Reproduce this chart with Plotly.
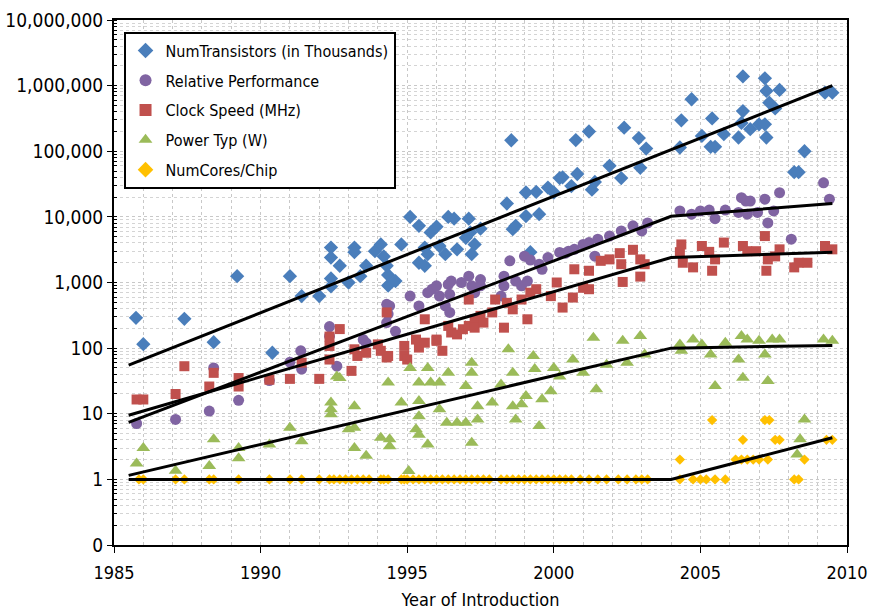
import plotly.graph_objects as go

# ---------------- data ----------------
trans_years = [1985.75, 1986.0, 1987.4, 1988.4, 1989.2, 1990.4, 1991.0, 1991.4, 1992.0, 1992.4, 1992.4, 1992.4,
               1992.4, 1992.7, 1993.0, 1993.2, 1993.2, 1993.4, 1993.6, 1993.9, 1994.1, 1994.2, 1994.3, 1994.35,
               1994.35, 1994.6, 1994.8, 1995.1, 1995.4, 1995.4, 1995.6, 1995.6, 1995.7, 1995.8, 1996.0, 1996.1,
               1996.3, 1996.4, 1996.6, 1996.7, 1997.0, 1997.1, 1997.15, 1997.3, 1997.2, 1997.5, 1998.4, 1998.55,
               1998.6, 1998.7, 1999.05, 1999.05, 1999.2, 1999.4, 1999.5, 1999.8, 2000.0, 2000.2, 2000.3, 2000.6,
               2000.75, 2000.8, 2001.2, 2001.3, 2001.4, 2001.9, 2002.3, 2002.4, 2002.9, 2002.95, 2003.15, 2004.3,
               2004.35, 2004.7, 2005.05, 2005.35, 2005.4, 2005.5, 2005.8, 2006.3, 2006.4, 2006.45, 2006.45, 2006.7,
               2007.0, 2007.2, 2007.2, 2007.25, 2007.25, 2007.35, 2007.55, 2007.7, 2008.2, 2008.35, 2008.55,
               2009.25, 2009.5]
trans_vals = [290, 115, 280, 123, 1250, 85, 1250, 620, 620, 3400, 2400, 1150,
              870, 1800, 1000, 3400, 2900, 1250, 1800, 3000, 3800, 2500, 1800, 900,
              1300, 1050, 3800, 10000, 7300, 2000, 1800, 3400, 2700, 5800, 7100, 3600,
              2700, 10000, 9400, 3200, 4800, 9400, 5800, 3800, 2700, 6600, 16000, 147000,
              6500, 7300, 23500, 10300, 2900, 24000, 11000, 28000, 23500, 39000, 40000, 29500,
              148000, 45000, 200000, 26000, 34000, 60000, 39000, 229000, 159000, 56000, 110000, 114000,
              296000, 620000, 171000, 117000, 316000, 117000, 182000, 162000, 270000, 410000, 1380000, 217000,
              257000, 257000, 1290000, 830000, 162000, 550000, 450000, 860000, 48000, 48000, 100000,
              780000, 780000]

perf_years = [1985.77, 1987.1, 1988.25, 1988.4, 1989.25, 1990.3, 1991.0, 1991.37, 1991.4, 1992.35, 1992.35,
              1992.6, 1993.5, 1993.6, 1994.3, 1994.3, 1994.35, 1994.4, 1994.6, 1995.1, 1995.4, 1995.7, 1995.85,
              1996.0, 1996.1, 1996.3, 1996.4, 1996.45, 1996.45, 1996.5, 1996.85, 1997.1, 1997.2, 1997.3, 1997.5,
              1997.5, 1998.2, 1998.3, 1998.3, 1998.5, 1998.7, 1998.9, 1999.0, 1999.1, 1999.2, 1999.5, 1999.6,
              1999.8, 2000.2, 2000.4, 2000.5, 2000.7, 2001.0, 2001.2, 2001.4, 2001.5, 2001.9, 2002.3, 2002.7,
              2003.0, 2003.2, 2004.3, 2004.7, 2005.0, 2005.3, 2005.5, 2005.85, 2006.3, 2006.4, 2006.55, 2006.7,
              2006.6, 2006.95, 2007.2, 2007.3, 2007.5, 2007.7, 2008.1, 2009.2, 2009.4]
perf_vals = [7.1, 8.2, 11, 50, 16, 32, 61, 91, 48, 213, 152,
             53, 135, 120, 465, 245, 330, 440, 180, 620, 440, 700, 790,
             890, 620, 440, 935, 350, 660, 1050, 1000, 1250, 890, 700, 1110,
             890, 620, 890, 1250, 2140, 1050, 890, 2520, 1050, 2200, 1900, 1590,
             2400, 2870, 2800, 3000, 3200, 3800, 4060, 2520, 4570, 5100, 6100, 7300,
             6100, 8100, 12300, 11000, 12300, 12700, 9400, 12700, 11700, 19600, 17400, 17400,
             11000, 11700, 18600, 8100, 12300, 23400, 4570, 33000, 18600]

clock_years = [1985.77, 1986.0, 1987.1, 1987.4, 1988.25, 1988.4, 1989.25, 1989.25, 1990.3, 1991.0, 1991.4,
               1992.0, 1992.35, 1992.35, 1992.35, 1992.7, 1993.1, 1993.2, 1993.3, 1993.6, 1994.0, 1994.1,
               1994.3, 1994.35, 1994.3, 1994.9, 1994.9, 1995.0, 1995.3, 1995.4, 1995.6, 1995.6, 1996.0,
               1996.0, 1996.2, 1996.4, 1996.5, 1996.7, 1996.9, 1997.1, 1997.1, 1997.3, 1997.3, 1997.5,
               1997.6, 1997.9, 1998.0, 1998.3, 1998.4, 1998.6, 1998.9, 1999.1, 1999.2, 1999.4, 1999.9,
               2000.1, 2000.3, 2000.65, 2000.7, 2001.0, 2001.2, 2001.2, 2001.6, 2001.9, 2002.25, 2002.3,
               2002.35, 2002.7, 2002.95, 2002.95, 2003.1, 2004.35, 2004.3, 2004.4, 2004.75, 2005.05, 2005.3,
               2005.4, 2005.5, 2005.8, 2006.45, 2006.6, 2006.9, 2007.2, 2007.3, 2007.25, 2007.55, 2007.7,
               2008.2, 2008.35, 2008.65, 2009.25, 2009.5]
clock_vals = [16.5, 16.5, 20, 53, 26, 42, 35, 26, 33, 34, 60,
              34, 150, 108, 67, 195, 45, 96, 76, 85, 114, 91,
              350, 76, 72, 108, 76, 67, 135, 102, 275, 121, 135,
              129, 91, 218, 173, 162, 194, 550, 218, 275, 205, 310,
              245, 350, 550, 205, 490, 390, 550, 275, 700, 790, 620,
              1000, 415, 590, 1590, 830, 790, 1510, 2140, 2250, 2800, 1900,
              1020, 3150, 2250, 1230, 1900, 3800, 2900, 2000, 1700, 3600, 2930,
              1510, 2250, 4060, 3600, 3000, 3000, 5100, 2250, 1510, 2500, 3200,
              1700, 2000, 2000, 3600, 3200]

power_years = [1985.77, 1986.0, 1987.1, 1988.25, 1988.4, 1989.25, 1989.25, 1990.3, 1991.0, 1991.4, 1992.4,
               1992.4, 1992.4, 1992.6, 1992.7, 1993.0, 1993.2, 1993.2, 1993.2, 1993.6, 1994.35, 1994.1,
               1994.4, 1994.4, 1994.8, 1995.05, 1995.1, 1995.4, 1995.4, 1995.4, 1995.3, 1995.4, 1995.7,
               1995.7, 1995.8, 1996.1, 1996.1, 1996.4, 1996.35, 1996.7, 1997.0, 1997.0, 1997.2, 1997.2,
               1997.2, 1997.4, 1997.4, 1997.9, 1998.2, 1998.45, 1998.6, 1998.6, 1998.7, 1998.9, 1999.05,
               1999.3, 1999.35, 1999.5, 1999.6, 1999.9, 2000.0, 2000.2, 2000.65, 2001.0, 2001.35, 2001.45,
               2001.8, 2002.35, 2002.5, 2002.95, 2003.1, 2004.3, 2004.35, 2004.75, 2005.05, 2005.35, 2005.5,
               2005.85, 2006.4, 2006.6, 2006.3, 2006.45, 2007.0, 2007.2, 2007.3, 2007.45, 2007.7, 2008.3,
               2008.4, 2008.55, 2009.2, 2009.5]
power_vals = [1.75, 3.0, 1.35, 1.6, 4.1, 3.0, 2.1, 3.4, 6.1, 3.8, 14.8,
              11.7, 9.8, 37, 35, 5.8, 13, 6.1, 3.0, 2.3, 30, 4.3,
              4.1, 3.2, 14.8, 1.34, 50, 30, 15.6, 9.2, 5.8, 4.8, 3.4,
              50, 30, 30, 11.7, 42, 7.3, 7.3, 7.3, 26.5, 42, 60,
              3.6, 13, 8.2, 14.8, 28, 96, 42, 13, 8.2, 14, 18.6,
              76, 48, 6.5, 16.6, 22, 50, 37, 67, 42, 144, 23.6,
              56, 129, 60, 153, 80, 114, 91, 135, 114, 80, 26.5,
              121, 153, 135, 67, 35.5, 129, 80, 31.6, 135, 135, 2.4,
              4.1, 8.2, 135, 129]

cores_years = [1985.85, 1986.0, 1987.1, 1987.4, 1988.25, 1988.4, 1989.25, 1990.3, 1991.0, 1991.4, 1992.0,
               1992.35, 1992.5, 1992.7, 1992.9, 1993.1, 1993.3, 1993.5, 1993.7, 1994.1, 1994.2, 1994.35,
               1994.8, 1994.9, 1995.0, 1995.2, 1995.4, 1995.6, 1995.8, 1996.0, 1996.2, 1996.4, 1996.6,
               1996.8, 1997.0, 1997.2, 1997.4, 1997.6, 1997.8, 1998.2, 1998.4, 1998.6, 1998.8, 1999.0,
               1999.2, 1999.4, 1999.6, 1999.8, 2000.0, 2000.2, 2000.4, 2000.6, 2000.9, 2001.2, 2001.5,
               2001.8, 2002.2, 2002.5, 2002.8, 2003.0, 2003.2, 2004.3, 2004.75, 2005.0, 2005.2, 2005.5,
               2005.85, 2008.2, 2008.35, 2004.3, 2006.2, 2006.4, 2006.6, 2006.8, 2007.0, 2007.3, 2008.55,
               2006.45, 2007.55, 2007.7, 2009.3, 2009.5, 2005.4, 2007.2, 2007.35]
cores_vals = [1, 1, 1, 1, 1, 1, 1, 1, 1, 1, 1,
              1, 1, 1, 1, 1, 1, 1, 1, 1, 1, 1,
              1, 1, 1, 1, 1, 1, 1, 1, 1, 1, 1,
              1, 1, 1, 1, 1, 1, 1, 1, 1, 1, 1,
              1, 1, 1, 1, 1, 1, 1, 1, 1, 1, 1,
              1, 1, 1, 1, 1, 1, 1, 1, 1, 1, 1,
              1, 1, 1, 2, 2, 2, 2, 2, 2, 2, 2,
              4, 4, 4, 4, 4, 8, 8, 8]

# trend lines (piecewise fits drawn in the reference)
trans_trend_years = [1985.5, 2009.5]
trans_trend_vals = [55, 1000000]
perf_trend_years = [1985.5, 2004.0, 2009.5]
perf_trend_vals = [7.4, 10200, 16000]
clock_trend_years = [1985.5, 2004.0, 2009.5]
clock_trend_vals = [9.5, 2400, 2900]
power_trend_years = [1985.5, 2004.0, 2009.5]
power_trend_vals = [1.15, 100, 110]
cores_trend_years = [1985.5, 2004.0, 2009.5]
cores_trend_vals = [1, 1, 4.3]

y_tickvals = [0.1, 1, 10, 100, 1000, 10000, 100000, 1000000, 10000000]
y_ticktext = ["0", "1", "10", "100", "1,000", "10,000", "100,000", "1,000,000", "10,000,000"]
x_tickvals = [1985, 1990, 1995, 2000, 2005, 2010]

# ---------------- figure ----------------
FONT = "DejaVu Sans Condensed, Liberation Sans Narrow, Arial, sans-serif"

fig = go.Figure()

series = [
    ("NumTransistors (in Thousands)", trans_years, trans_vals, "diamond", "#4A7EBB", 11),
    ("Relative Performance", perf_years, perf_vals, "circle", "#8064A2", 11),
    ("Clock Speed (MHz)", clock_years, clock_vals, "square", "#C0504D", 10),
    ("Power Typ (W)", power_years, power_vals, "triangle-up", "#9BBB59", 12),
    ("NumCores/Chip", cores_years, cores_vals, "diamond", "#FFC000", 8),
]
for i, (name, xs, ys, sym, col, sz) in enumerate(series):
    fig.add_trace(go.Scatter(
        x=xs, y=ys, mode="markers", name=name, legendgroup=f"g{i}",
        marker=dict(symbol=sym, color=col, size=sz, line=dict(width=0)),
    ))

for xs, ys in [(trans_trend_years, trans_trend_vals), (perf_trend_years, perf_trend_vals),
               (clock_trend_years, clock_trend_vals), (power_trend_years, power_trend_vals),
               (cores_trend_years, cores_trend_vals)]:
    fig.add_trace(go.Scatter(x=xs, y=ys, mode="lines", showlegend=False,
                             line=dict(color="black", width=3), hoverinfo="skip"))

fig.update_layout(
    width=869, height=614,
    margin=dict(l=114, r=22, t=20, b=69, autoexpand=False),
    paper_bgcolor="white", plot_bgcolor="white",
    font=dict(family=FONT, color="black", size=16),
    showlegend=True,
    legend=dict(
        x=0.013, y=0.978, xanchor="left", yanchor="top",
        bgcolor="white", bordercolor="black", borderwidth=2,
        font=dict(family=FONT, size=16, color="black"),
        tracegroupgap=6, itemsizing="constant",
    ),
)

fig.update_xaxes(
    range=[1985, 2010], tickvals=x_tickvals, ticktext=[str(v) for v in x_tickvals],
    showline=True, linecolor="black", linewidth=2, mirror=True,
    ticks="outside", ticklen=6, tickcolor="black", ticklabelstandoff=4,
    showgrid=True, gridcolor="#c8c8c8", griddash="dot", gridwidth=1,
    minor=dict(dtick=1, tick0=1985, showgrid=True, gridcolor="#c8c8c8", griddash="dot"),
    tickfont=dict(size=18, family=FONT),
    title=dict(text="Year of Introduction", font=dict(size=18, family=FONT), standoff=12),
    zeroline=False, automargin=False,
)
fig.update_yaxes(
    type="log", range=[-1, 7], tickvals=y_tickvals, ticktext=y_ticktext,
    showline=True, linecolor="black", linewidth=2, mirror=True,
    ticks="outside", ticklen=5, tickcolor="black",
    showgrid=True, gridcolor="#c8c8c8", griddash="dot", gridwidth=1,
    minor=dict(dtick="D1", showgrid=True, gridcolor="#d4d4d4", griddash="dot", ticks="inside", ticklen=3),
    tickfont=dict(size=19, family=FONT),
    zeroline=False, automargin=False,
)

fig.write_html("out.html")
